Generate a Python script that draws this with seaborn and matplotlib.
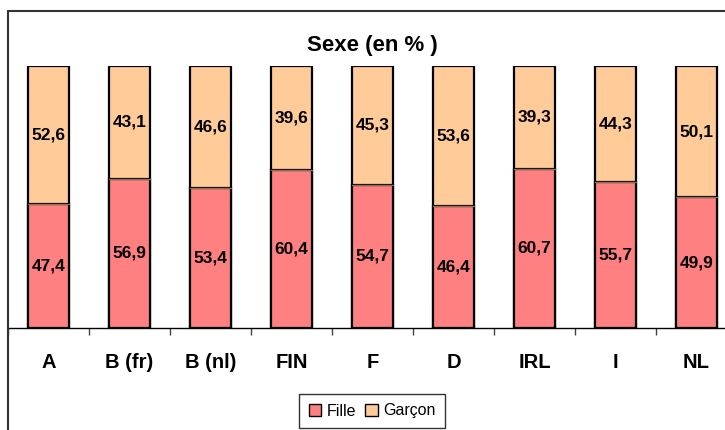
import numpy as np
import pandas as pd
import matplotlib
matplotlib.use('Agg')
import matplotlib.pyplot as plt
import seaborn as sns
from matplotlib.patches import Patch
from matplotlib.lines import Line2D

sns.set_style('white')
plt.rcParams['font.family'] = ['Liberation Sans', 'DejaVu Sans']
plt.rcParams['text.color'] = 'black'
plt.rcParams['xtick.color'] = 'black'
plt.rcParams['axes.labelcolor'] = 'black'

# data
pays = ['A', 'B (fr)', 'B (nl)', 'FIN', 'F', 'D', 'IRL', 'I', 'NL']
fille = [47.4, 56.9, 53.4, 60.4, 54.7, 46.4, 60.7, 55.7, 49.9]
garcon = [52.6, 43.1, 46.6, 39.6, 45.3, 53.6, 39.3, 44.3, 50.1]

col_fille = '#FF8080'
col_garcon = '#FFCC99'

df = pd.DataFrame({'pays': pays, 'Fille': fille, 'Garçon': garcon})
df['total'] = df['Fille'] + df['Garçon']

fig = plt.figure(figsize=(7.25, 4.3), dpi=100)
# axes runs past the right edge like the original crop
ax = fig.add_axes([8 / 725, 1 - 328 / 430, 729 / 725, 262 / 430])

sns.barplot(data=df, x='pays', y='total', color=col_garcon, width=0.5,
            edgecolor='black', linewidth=1.6, saturation=1, ax=ax)
sns.barplot(data=df, x='pays', y='Fille', color=col_fille, width=0.5,
            edgecolor='black', linewidth=1.6, saturation=1, ax=ax)

# thin divider between the two segments
for p in ax.patches[len(pays):]:
    x0 = p.get_x()
    ax.plot([x0, x0 + p.get_width()], [p.get_height()] * 2, color='#8a7050', lw=1)

def fmt(v):
    return ('%.1f' % v).replace('.', ',')

for i, (f, g) in enumerate(zip(fille, garcon)):
    ax.text(i, f / 2, fmt(f), ha='center', va='center', fontsize=12.5,
            fontweight='bold')
    ax.text(i, f + g / 2, fmt(g), ha='center', va='center', fontsize=12.5,
            fontweight='bold')

ax.set_ylim(0, 100)
ax.set_xlim(-0.5, len(pays) - 0.5)
ax.set_xlabel('')
ax.set_ylabel('')
ax.set_yticks([])
for s in ['top', 'right', 'left']:
    ax.spines[s].set_visible(False)
ax.spines['bottom'].set_color('black')
ax.spines['bottom'].set_linewidth(1)
ax.set_xticks(np.arange(len(pays)))
ax.set_xticklabels(pays, fontsize=14.5, fontweight='bold')
ax.tick_params(axis='x', which='major', length=0, pad=18)
ax.set_xticks(np.arange(len(pays) + 1) - 0.5, minor=True)
ax.tick_params(axis='x', which='minor', length=5, width=1, color='#444444',
               direction='out', bottom=True)

fig.text(372 / 725, 1 - 45 / 430, 'Sexe (en % )', ha='center', va='center',
         fontsize=16, fontweight='bold')

# chart area border
fig.add_artist(Line2D([8 / 725, 1.0], [1 - 11 / 430] * 2, color='#333333', lw=1.5,
                      transform=fig.transFigure))
fig.add_artist(Line2D([8 / 725] * 2, [0, 1 - 11 / 430], color='#333333', lw=1.5,
                      transform=fig.transFigure))

handles = [Patch(facecolor=col_fille, edgecolor='black', label='Fille'),
           Patch(facecolor=col_garcon, edgecolor='black', label='Garçon')]
leg = fig.legend(handles=handles, loc='center', bbox_to_anchor=(372 / 725, 1 - 411 / 430),
                 ncol=2, frameon=True, fancybox=False, fontsize=11.5,
                 handlelength=0.8, handleheight=0.8, handletextpad=0.3,
                 columnspacing=0.6, borderpad=0.6)
leg.get_frame().set_edgecolor('black')
leg.get_frame().set_linewidth(1)

fig.savefig('out.png', dpi=100)
